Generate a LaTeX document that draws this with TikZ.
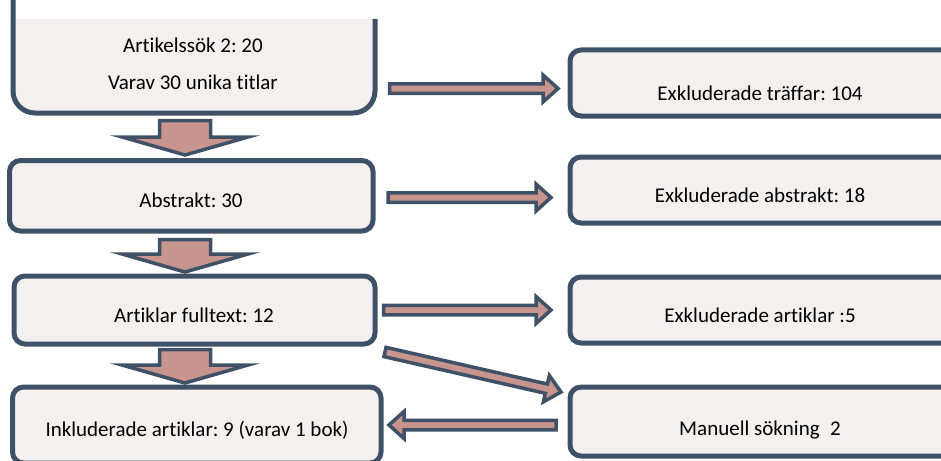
\documentclass[tikz,border=0pt]{standalone}
\usepackage{fontspec}
\setmainfont{Carlito}[Ligatures={NoCommon}]
\usetikzlibrary{calc}
\definecolor{edge}{HTML}{3F5166}
\definecolor{boxfill}{HTML}{F5F0F0}
\definecolor{arrfill}{HTML}{C8948E}
\tikzset{
  box/.style={draw=edge, fill=boxfill, line width=5pt, rounded corners=11pt, inner sep=0pt},
  txt/.style={font=\fontsize{21}{24}\selectfont\frenchspacing, text=black, inner sep=0pt},
  blockarr/.style={draw=edge, fill=arrfill, line width=3.5pt, line join=miter}
}
% #1 tail, #2 tip, #3 shaft half width, #4 head half width, #5 head length
\newcommand{\blockarrow}[5]{%
  \coordinate (hb) at ($(#2)!#5!(#1)$);
  \draw[blockarr]
    ($(#1)!#3!90:(#2)$) -- ($(hb)!#3!-90:(#1)$) -- ($(hb)!#4!-90:(#1)$) -- (#2)
    -- ($(hb)!#4!90:(#1)$) -- ($(hb)!#3!90:(#1)$) -- ($(#1)!#3!-90:(#2)$) -- cycle;
}
\begin{document}
\begin{tikzpicture}[x=1pt,y=-1pt]
\useasboundingbox (0,0) rectangle (941,460);
\clip (0,0) rectangle (941,460);
% top box (cropped)
\fill[boxfill, rounded corners=22pt] (13,19) rectangle (375,113);
\fill[boxfill] (13,19) rectangle (375,70);
\draw[edge, line width=5pt, rounded corners=22pt] (13,-10) -- (13,113) -- (375,113) -- (375,19);
\coordinate (b1) at (194,66);
\node[txt] (t1a) at (193,45) {Artikelssök 2: 20};
\node[txt] (t1b) at (193,82) {Varav 30 unika titlar};
% left boxes
\node[box, minimum width=363.5pt, minimum height=70.5pt] (b2) at (191.25,195.75) {};
\node[txt] at (191,200) {Abstrakt: 30};
\node[box, minimum width=361pt, minimum height=68pt] (b3) at (194.5,310) {};
\node[txt] at (194,315) {Artiklar fulltext: 12};
\node[box, minimum width=368.5pt, minimum height=76pt] (b4) at (196.75,425) {};
\node[txt] at (197,430) {Inkluderade artiklar: 9 (varav 1 bok)};
% right boxes
\node[box, minimum width=400pt, minimum height=66pt] (r1) at (770,83) {};
\node[txt] at (760,93) {Exkluderade träffar: 104};
\node[box, minimum width=400pt, minimum height=66pt] (r2) at (770,190) {};
\node[txt] at (760,195) {Exkluderade abstrakt: 18};
\node[box, minimum width=400pt, minimum height=66pt] (r3) at (770,310) {};
\node[txt] at (760,315) {Exkluderade artiklar :5};
\node[box, minimum width=400pt, minimum height=69pt] (r4) at (770,421.5) {};
\node[txt] at (760,430) {Manuell sökning{\color{white}:} 2};
% arrow end points
\coordinate (d1s) at (185,120.5); \coordinate (d1e) at (185,155);
\coordinate (d2s) at (185,239.5); \coordinate (d2e) at (185,272);
\coordinate (d3s) at (185,349.5); \coordinate (d3e) at (185,383);
\coordinate (h1s) at (389.5,88.5); \coordinate (h1e) at (558,88.5);
\coordinate (h2s) at (388,197.5); \coordinate (h2e) at (551,197.5);
\coordinate (h3s) at (383.5,310); \coordinate (h3e) at (551,310);
\coordinate (dgs) at (385,352); \coordinate (dge) at (561,392);
\coordinate (bks) at (556,425); \coordinate (bke) at (389,425);
% down arrows
\blockarrow{d1s}{d1e}{25.5pt}{63pt}{18pt}
\blockarrow{d2s}{d2e}{25.5pt}{63pt}{18pt}
\blockarrow{d3s}{d3e}{25.5pt}{63pt}{18pt}
% side arrows
\blockarrow{h1s}{h1e}{4.75pt}{13.5pt}{15pt}
\blockarrow{h2s}{h2e}{4.75pt}{13.5pt}{15pt}
\blockarrow{h3s}{h3e}{4.75pt}{13.5pt}{15pt}
\blockarrow{dgs}{dge}{4.75pt}{13.5pt}{15pt}
\blockarrow{bks}{bke}{4.75pt}{13.5pt}{15pt}
\end{tikzpicture}
\end{document}
